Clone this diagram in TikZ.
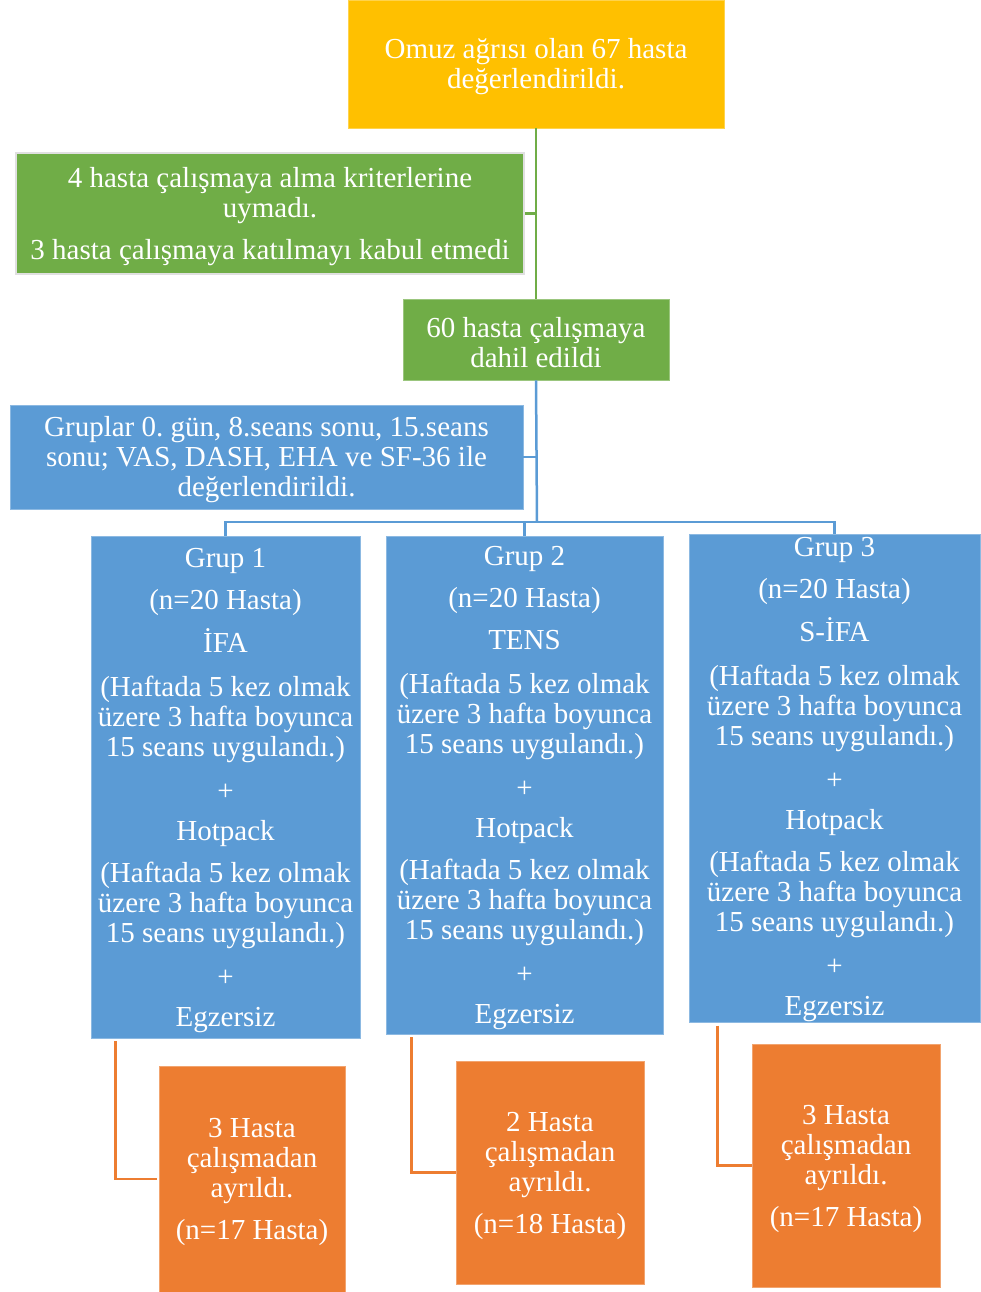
\documentclass[tikz,border=0pt]{standalone}
\usepackage{fontspec}
\setmainfont{Liberation Serif}
\usetikzlibrary{calc}
\frenchspacing
\definecolor{cyel}{HTML}{FFC000}
\definecolor{cgrn}{HTML}{70AD47}
\definecolor{cblu}{HTML}{5B9BD5}
\definecolor{corg}{HTML}{ED7D31}
\newcommand\tstrut{\rule{0pt}{26pt}}
\tikzset{
  box/.style={rectangle, inner sep=0pt, align=center, text=white,
    font=\fontsize{29}{30}\selectfont},
  ybox/.style={box, fill=cyel, draw=cyel!70!white, line width=0.8pt},
  gbox/.style={box, fill=cgrn, draw=cgrn!70!white, line width=0.8pt},
  bbox/.style={box, fill=cblu, draw=cblu!70!white, line width=0.8pt},
  obox/.style={box, fill=corg, draw=corg!70!white, line width=0.8pt},
  gline/.style={draw=cgrn, line width=2.5pt},
  bline/.style={draw=cblu, line width=2.5pt},
  oline/.style={draw=corg, line width=2.5pt},
}
\begin{document}
\begin{tikzpicture}[x=1pt,y=-1pt]
\useasboundingbox (0,0) rectangle (980,1292);

\node[ybox, minimum width=376pt, minimum height=128pt] (top) at (536,64)
  {\tstrut Omuz ağrısı olan 67 hasta\\değerlendirildi.};
\node[gbox, draw=black!12, line width=2pt, minimum width=508pt, minimum height=121pt] (g1) at (270,213.5)
  {\tstrut 4 hasta çalışmaya alma kriterlerine\\uymadı.\\[12pt]3 hasta çalışmaya katılmayı kabul etmedi};
\node[gbox, minimum width=266pt, minimum height=81pt] (g2) at (536,339.5)
  {\tstrut 60 hasta çalışmaya\\dahil edildi};
\node[bbox, minimum width=513pt, minimum height=104pt] (grp) at (266.5,457)
  {\tstrut Gruplar 0. gün, 8.seans sonu, 15.seans\\sonu; VAS, DASH, EHA ve SF-36 ile\\değerlendirildi.};

\node[bbox, minimum width=269pt, minimum height=502pt] (b1) at (225.5,787)
  {\tstrut Grup 1\\[12pt](n=20 Hasta)\\[12pt]İFA\\[14pt](Haftada 5 kez olmak\\üzere 3 hafta boyunca\\15 seans uygulandı.)\\[14pt]+\\[10pt]Hotpack\\[12pt](Haftada 5 kez olmak\\üzere 3 hafta boyunca\\15 seans uygulandı.)\\[14pt]+\\[10pt]Egzersiz};
\node[bbox, minimum width=277pt, minimum height=498pt] (b2) at (524.5,785)
  {\tstrut Grup 2\\[12pt](n=20 Hasta)\\[12pt]TENS\\[14pt](Haftada 5 kez olmak\\üzere 3 hafta boyunca\\15 seans uygulandı.)\\[14pt]+\\[10pt]Hotpack\\[12pt](Haftada 5 kez olmak\\üzere 3 hafta boyunca\\15 seans uygulandı.)\\[14pt]+\\[10pt]Egzersiz};
\node[bbox, minimum width=291pt, minimum height=487pt] (b3) at (834.5,778.5)
  {\rule{0pt}{22pt}Grup 3\\[12pt](n=20 Hasta)\\[12pt]S-İFA\\[14pt](Haftada 5 kez olmak\\üzere 3 hafta boyunca\\15 seans uygulandı.)\\[14pt]+\\[10pt]Hotpack\\[12pt](Haftada 5 kez olmak\\üzere 3 hafta boyunca\\15 seans uygulandı.)\\[14pt]+\\[10pt]Egzersiz};

\node[obox, minimum width=186pt, minimum height=226pt] (o1) at (252,1179)
  {\tstrut 3 Hasta\\çalışmadan\\ayrıldı.\\[12pt](n=17 Hasta)};
\node[obox, minimum width=188pt, minimum height=223pt] (o2) at (550,1172.5)
  {\tstrut 2 Hasta\\çalışmadan\\ayrıldı.\\[12pt](n=18 Hasta)};
\node[obox, minimum width=188pt, minimum height=243pt] (o3) at (846,1165.5)
  {\tstrut 3 Hasta\\çalışmadan\\ayrıldı.\\[12pt](n=17 Hasta)};

% green connectors
\draw[gline] (top.south) -- (g2.north);
\draw[gline] (g1.east) -- (g1.east -| top.south);
% blue connectors
\coordinate (bus) at (537,522);
\draw[bline] (g2.south) -- (bus);
\draw[bline] (grp.east) -- (grp.east -| bus);
\draw[bline] (b1.north) -- (b1.north |- bus) -- (b3.north |- bus) -- (b3.north);
\draw[bline] (b2.north) -- (b2.north |- bus);
% orange connectors
\draw[oline] ([xshift=25pt,yshift=-3pt]b1.south west) |- ([xshift=-2pt]o1.west);
\draw[oline] ([xshift=26pt,yshift=-3pt]b2.south west) |- (o2.west);
\draw[oline] ([xshift=29pt,yshift=-3pt]b3.south west) |- (o3.west);
\end{tikzpicture}
\end{document}
